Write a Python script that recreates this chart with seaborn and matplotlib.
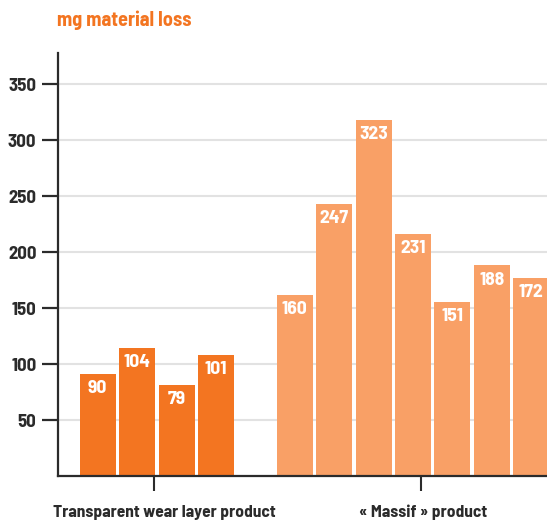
import numpy as np
import pandas as pd
import matplotlib
matplotlib.use("Agg")
import matplotlib.pyplot as plt
import matplotlib.transforms as mtransforms
import seaborn as sns

# Values (bar heights as drawn, labels as printed)
slots = [0, 1, 2, 3, 5, 6, 7, 8, 9, 10, 11]
heights = [91, 114, 81, 108, 162, 243, 318, 216, 155, 188, 177]
value_labels = ["90", "104", "79", "101", "160", "247", "323", "231", "151", "188", "172"]
groups = ["Transparent wear layer product"] * 4 + ["\u00ab Massif \u00bb product"] * 7
group_names = ["Transparent wear layer product", "\u00ab Massif \u00bb product"]
group_ticks = [1.42, 8.19]
group_label_x = [1.68, 8.25]
y_ticks = [50, 100, 150, 200, 250, 300, 350]

COLORS = {group_names[0]: "#F37521", group_names[1]: "#F9A066"}
DARK = "#2b2b2b"

sns.set_theme(style="white")
plt.rcParams["font.family"] = ["Barlow Semi Condensed", "DejaVu Sans"]
plt.rcParams["font.weight"] = "bold"

df = pd.DataFrame({"slot": slots, "height": heights, "group": groups})

fig = plt.figure(figsize=(5.47, 5.21), dpi=100)
ax = fig.add_axes([58 / 547, 45 / 521, 1 - 58 / 547, 423 / 521])

sns.barplot(data=df, x="slot", y="height", hue="group", palette=COLORS,
            native_scale=True, dodge=False, width=0.913, legend=False,
            saturation=1, ax=ax, edgecolor="none")

# value labels inside the bars
for x, h, lab in zip(slots, heights, value_labels):
    ax.annotate(lab, (x, h), xytext=(0, -10.5), textcoords="offset points",
                ha="center", va="center", color="white", fontsize=14,
                fontweight="bold")

ax.set_xlim(-1.01, 11.40)
ax.set_ylim(0, 377.7)

ax.set_yticks(y_ticks)
ax.set_yticklabels([str(v) for v in y_ticks])
ax.set_xticks(group_ticks)
ax.set_xticklabels([])

# group labels under the axis
trans = mtransforms.blended_transform_factory(ax.transData, fig.transFigure)
for gx, name in zip(group_label_x, group_names):
    ax.text(gx, 1 - 517 / 521, name, transform=trans, ha="center", va="baseline",
            color=DARK, fontsize=12.5, fontweight="bold")

ax.yaxis.grid(True, color="#e2e2e2", linewidth=1.5)
ax.xaxis.grid(False)
ax.set_axisbelow(True)

ax.tick_params(axis="y", direction="out", length=11.5, width=1.6, color=DARK,
               labelcolor=DARK, labelsize=13.5, pad=4, left=True)
ax.tick_params(axis="x", direction="out", length=11, width=1.5, color=DARK,
               bottom=True)

for side in ["top", "right"]:
    ax.spines[side].set_visible(False)
for side in ["left", "bottom"]:
    ax.spines[side].set_color(DARK)
    ax.spines[side].set_linewidth(1.6)

ax.set_xlabel("")
ax.set_ylabel("")

fig.text(57 / 547, 1 - 25.5 / 521, "mg material loss", color="#F37521",
         fontsize=14.5, fontweight="bold", ha="left", va="baseline")

fig.savefig("out.png", dpi=100)
